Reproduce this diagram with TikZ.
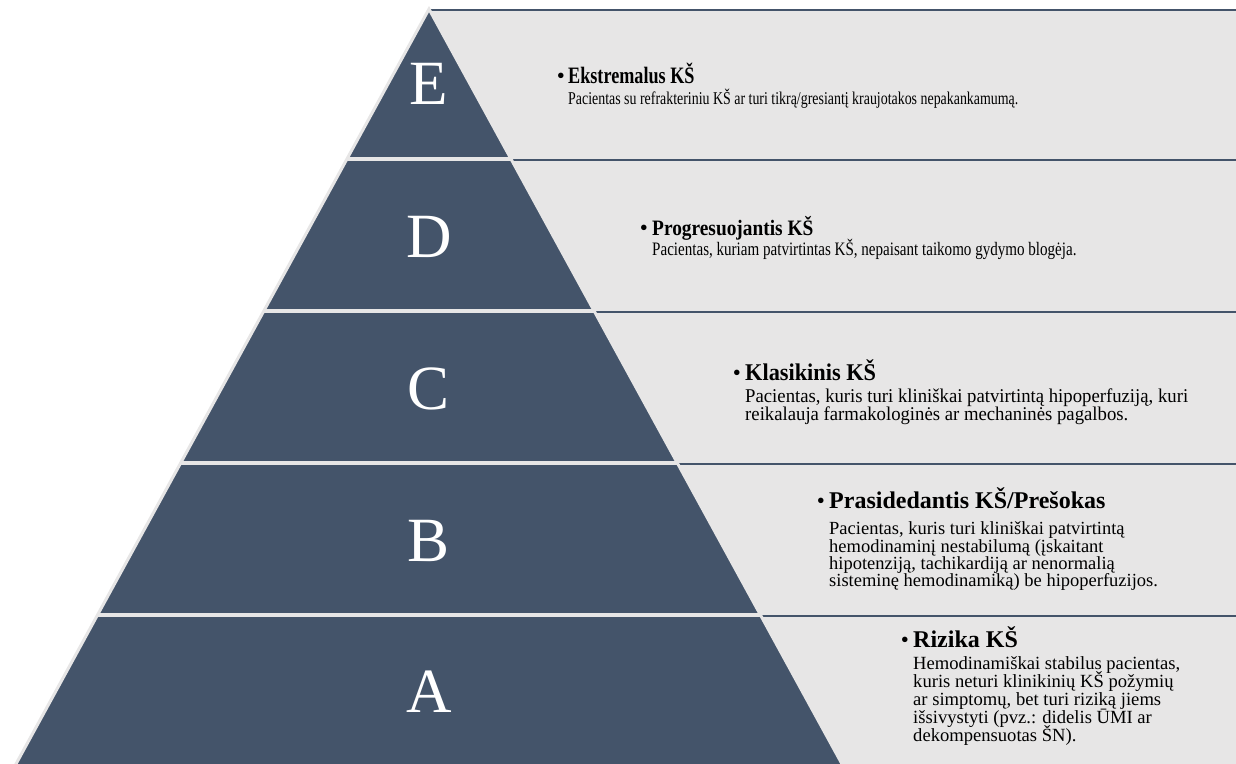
\documentclass[tikz,border=0pt]{standalone}
\usepackage{fontspec}
\setmainfont{Liberation Serif}
\usetikzlibrary{calc}
\definecolor{pyr}{HTML}{44546A}
\definecolor{bandgrey}{HTML}{E7E6E6}
\definecolor{edgegrey}{HTML}{E7E6E6}
\newcommand\ff[2]{\fontsize{#2}{#2}\selectfont\addfontfeatures{FakeStretch=#1}}
\tikzset{
  ttl/.style={anchor=base west, inner sep=0pt},
  bdy/.style={anchor=base west, inner sep=0pt},
  bul/.style={anchor=base east, inner sep=0pt, font=\fontsize{23}{23}\selectfont},
  lvl/.style={anchor=base, inner sep=0pt, text=white, font=\fontsize{63}{63}\selectfont},
  bandfill/.style={fill=bandgrey},
  topline/.style={draw=pyr, line width=2.8pt},
  sepline/.style={draw=edgegrey, line width=4pt},
}
\begin{document}
\begin{tikzpicture}[x=1pt,y=-1pt]
\path[use as bounding box] (0,0) rectangle (1236,763);
\clip (0,0) rectangle (1236,763);
% grey bands
\fill[bandfill] (429,10) rectangle (1240,160);
\fill[bandfill] (429,160) rectangle (1240,312);
\fill[bandfill] (429,312) rectangle (1240,464);
\fill[bandfill] (429,464) rectangle (1240,616);
\fill[bandfill] (429,616) rectangle (1240,770);
\draw[topline] (429,10) -- (1240,10);
\draw[topline] (429,160) -- (1240,160);
\draw[topline] (429,312) -- (1240,312);
\draw[topline] (429,464) -- (1240,464);
\draw[topline] (429,616) -- (1240,616);
% pyramid
\coordinate (apex) at (429,9);
\coordinate (bl) at (12.7,770);
\coordinate (br) at (845.3,770);
\draw[draw=edgegrey, line width=3pt, fill=pyr] (apex) -- (bl) -- (br) -- cycle;
\draw[sepline] ($(apex)!0.1971!(bl)$) -- ($(apex)!0.1971!(br)$);
\draw[sepline] ($(apex)!0.3968!(bl)$) -- ($(apex)!0.3968!(br)$);
\draw[sepline] ($(apex)!0.5966!(bl)$) -- ($(apex)!0.5966!(br)$);
\draw[sepline] ($(apex)!0.7963!(bl)$) -- ($(apex)!0.7963!(br)$);
% letters
\node[lvl] (lE) at (429,104) {E};
\node[lvl] (lD) at (429,257) {D};
\node[lvl] (lC) at (429,409) {C};
\node[lvl] (lB) at (429,561) {B};
\node[lvl] (lA) at (429,712) {A};
% band E
\node[bul] (bE) at (565,83) {•};
\node[ttl, font=\bfseries\ff{0.773}{23.5}] (tE) at (568,83) {Ekstremalus KŠ};
\node[bdy, font=\ff{0.773}{18}] (e1) at (568,104) {Pacientas su refrakteriniu KŠ ar turi tikrą/gresiantį kraujotakos nepakankamumą.};
% band D
\node[bul] (bD) at (648,235) {•};
\node[ttl, font=\bfseries\ff{0.88}{22}] (tD) at (652,235) {Progresuojantis KŠ};
\node[bdy, font=\ff{0.793}{19}] (d1) at (652,255) {Pacientas, kuriam patvirtintas KŠ, nepaisant taikomo gydymo blogėja.};
% band C
\node[bul] (bC) at (741,380) {•};
\node[ttl, font=\bfseries\ff{0.93}{24}] (tC) at (745,380) {Klasikinis KŠ};
\node[bdy, font=\ff{0.96}{19.5}] (c1) at (745,402) {Pacientas, kuris turi kliniškai patvirtintą hipoperfuziją, kuri};
\node[bdy, font=\ff{0.96}{19.5}] (c2) at (745,420) {reikalauja farmakologinės ar mechaninės pagalbos.};
% band B
\node[bul] (bB) at (825,508) {•};
\node[ttl, font=\bfseries\ff{1.0}{24}] (tB) at (829,508) {Prasidedantis KŠ/Prešokas};
\node[bdy, font=\ff{1.0}{18.5}] (b1) at (829,534) {Pacientas, kuris turi kliniškai patvirtintą};
\node[bdy, font=\ff{1.0}{18.5}] (b2) at (829,552) {hemodinaminį nestabilumą (įskaitant};
\node[bdy, font=\ff{1.0}{18.5}] (b3) at (829,569) {hipotenziją, tachikardiją ar nenormalią};
\node[bdy, font=\ff{1.0}{18.5}] (b4) at (829,586) {sisteminę hemodinamiką) be hipoperfuzijos.};
% band A
\node[bul] (bA) at (909,647) {•};
\node[ttl, font=\bfseries\ff{1.0}{24}] (tA) at (913,647) {Rizika KŠ};
\node[bdy, font=\ff{1.0}{18.6}] (a1) at (913,669) {Hemodinamiškai stabilus pacientas,};
\node[bdy, font=\ff{1.0}{18.6}] (a2) at (913,687) {kuris neturi klinikinių KŠ požymių};
\node[bdy, font=\ff{1.0}{18.6}] (a3) at (913,705) {ar simptomų, bet turi riziką jiems};
\node[bdy, font=\ff{1.0}{18.6}] (a4) at (913,723) {išsivystyti (pvz.: didelis ŪMI ar};
\node[bdy, font=\ff{1.0}{18.6}] (a5) at (913,741) {dekompensuotas ŠN).};
\end{tikzpicture}
\end{document}
